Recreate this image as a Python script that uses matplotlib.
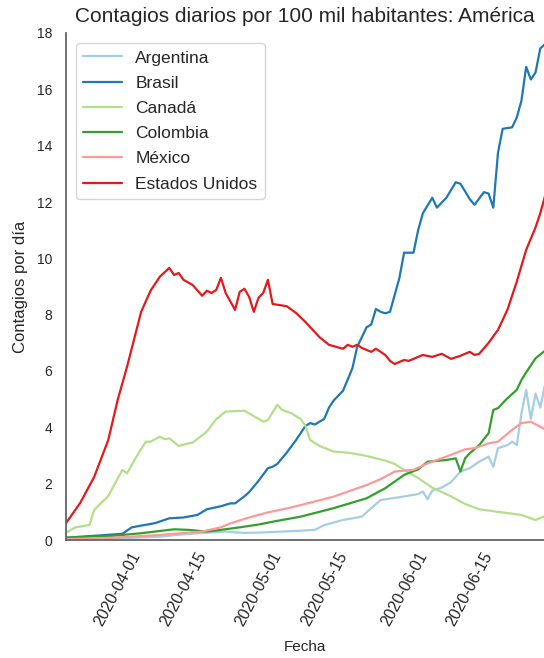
import matplotlib
matplotlib.use("Agg")
import matplotlib.pyplot as plt
import pandas as pd
import seaborn as sns

sns.set_style("white")
plt.rcParams['font.family'] = ['Liberation Sans', 'DejaVu Sans']

# ---- data (days since 2020-03-21, cases per 100k, daily) ----
start_date = "2020-03-21"

arg_days = [0, 10, 20, 25, 30, 34, 38, 42, 46, 50, 53, 55, 59, 63, 65, 67, 71, 75, 76, 77, 78, 80, 82, 84, 86, 88, 90, 91, 92, 94, 95, 96, 97, 98, 99, 100, 101, 102]
arg_vals = [0.02, 0.05, 0.12, 0.2, 0.26, 0.3, 0.25, 0.27, 0.3, 0.33, 0.36, 0.53, 0.71, 0.83, 1.13, 1.42, 1.52, 1.63, 1.72, 1.45, 1.75, 1.86, 2.05, 2.43, 2.55, 2.78, 2.96, 2.6, 3.26, 3.37, 3.49, 3.37, 4.5, 5.33, 4.3, 5.2, 4.7, 5.5]

bra_days = [0, 12, 14, 19, 22, 25, 28, 30, 33, 35, 36, 38, 39, 41, 43, 44, 45, 47, 49, 51, 52, 53, 55, 56, 57, 59, 61, 62, 64, 65, 66, 67, 68, 69, 70, 71, 72, 74, 75, 76, 78, 79, 81, 83, 84, 86, 87, 89, 90, 91, 92, 93, 95, 96, 97, 98, 99, 100, 101, 102]
bra_vals = [0.08, 0.22, 0.45, 0.6, 0.77, 0.8, 0.89, 1.09, 1.2, 1.3, 1.3, 1.55, 1.7, 2.1, 2.55, 2.6, 2.7, 3.1, 3.55, 4.05, 4.15, 4.1, 4.3, 4.7, 4.95, 5.3, 6.1, 6.85, 7.55, 7.65, 8.2, 8.1, 8.05, 8.1, 8.7, 9.3, 10.2, 10.2, 11.0, 11.6, 12.15, 11.8, 12.15, 12.7, 12.65, 12.1, 11.9, 12.35, 12.3, 11.8, 13.75, 14.6, 14.65, 15.0, 15.6, 16.8, 16.35, 16.6, 17.45, 17.6]

can_days = [0, 2, 5, 6, 9, 12, 13, 15, 17, 18, 20, 21, 22, 24, 26, 27, 30, 32, 34, 38, 40, 42, 43, 45, 46, 48, 50, 51, 52, 54, 57, 60, 63, 65, 68, 70, 72, 75, 78, 82, 85, 88, 92, 97, 100, 102]
can_vals = [0.26, 0.45, 0.53, 1.07, 1.56, 2.49, 2.37, 2.96, 3.49, 3.49, 3.67, 3.58, 3.61, 3.34, 3.43, 3.46, 3.85, 4.29, 4.56, 4.59, 4.4, 4.2, 4.26, 4.8, 4.62, 4.5, 4.29, 4.05, 3.55, 3.34, 3.14, 3.1, 3.02, 2.94, 2.82, 2.7, 2.49, 2.2, 1.86, 1.55, 1.28, 1.09, 1.0, 0.89, 0.71, 0.85]

col_days = [0, 10, 16, 23, 26, 30, 33, 37, 41, 45, 50, 57, 64, 68, 72, 75, 77, 81, 83, 84, 85, 86, 88, 90, 91, 92, 93, 94, 96, 97, 98, 100, 102]
col_vals = [0.08, 0.15, 0.24, 0.38, 0.36, 0.3, 0.36, 0.45, 0.55, 0.68, 0.83, 1.13, 1.48, 1.84, 2.31, 2.51, 2.78, 2.84, 2.9, 2.43, 2.9, 3.08, 3.37, 3.79, 4.62, 4.68, 4.86, 5.03, 5.33, 5.68, 5.95, 6.45, 6.72]

mex_days = [0, 10, 20, 29, 33, 35, 39, 43, 47, 50, 57, 64, 67, 70, 74, 77, 81, 85, 87, 90, 92, 95, 97, 99, 102]
mex_vals = [0.03, 0.08, 0.18, 0.3, 0.45, 0.59, 0.8, 0.98, 1.12, 1.24, 1.54, 1.95, 2.16, 2.43, 2.49, 2.72, 2.96, 3.22, 3.26, 3.43, 3.49, 3.91, 4.15, 4.2, 3.93]

usa_days = [0, 3, 6, 9, 11, 13, 16, 18, 20, 22, 23, 24, 25, 27, 29, 30, 31, 32, 33, 34, 36, 37, 38, 39, 40, 41, 42, 43, 44, 47, 49, 51, 54, 56, 59, 60, 61, 62, 63, 65, 66, 68, 69, 70, 72, 73, 76, 78, 80, 82, 84, 86, 87, 88, 90, 92, 94, 96, 98, 99, 100, 101, 102]
usa_vals = [0.6, 1.31, 2.24, 3.55, 4.97, 6.15, 8.1, 8.85, 9.35, 9.66, 9.41, 9.48, 9.24, 9.05, 8.67, 8.85, 8.77, 8.88, 9.31, 8.77, 8.17, 8.81, 8.92, 8.63, 8.1, 8.6, 8.77, 9.24, 8.38, 8.3, 8.06, 7.74, 7.2, 6.93, 6.79, 6.93, 6.86, 6.93, 6.82, 6.68, 6.79, 6.57, 6.36, 6.25, 6.39, 6.36, 6.57, 6.5, 6.61, 6.43, 6.54, 6.68, 6.57, 6.61, 7.0, 7.46, 8.17, 9.17, 10.3, 10.7, 11.1, 11.6, 12.2]

countries = ["Argentina", "Brasil", "Canadá", "Colombia", "México", "Estados Unidos"]
series_days = [arg_days, bra_days, can_days, col_days, mex_days, usa_days]
series_vals = [arg_vals, bra_vals, can_vals, col_vals, mex_vals, usa_vals]

tick_dates = ["2020-04-01", "2020-04-15", "2020-05-01", "2020-05-15", "2020-06-01", "2020-06-15"]
y_ticks = [0, 2, 4, 6, 8, 10, 12, 14, 16, 18]

title = "Contagios diarios por 100 mil habitantes: América"
x_label = "Fecha"
y_label = "Contagios por día"

# ---- plot ----
W, H = 544, 658
fig = plt.figure(figsize=(W / 100, H / 100), dpi=100)
ax = fig.add_axes([66 / W, 118 / H, 478 / W, 507 / H])

palette = sns.color_palette("Paired", 6)
base = pd.Timestamp(start_date)
for name, d, v, c in zip(countries, series_days, series_vals, palette):
    dates = base + pd.to_timedelta(d, unit="D")
    ax.plot(dates, v, color=c, lw=1.6, label=name)

ax.set_xlim(base, base + pd.Timedelta(days=101.8))
ax.set_ylim(0, 18)
ax.set_yticks(y_ticks)
ax.set_yticklabels([str(t) for t in y_ticks], fontsize=10, color=".15")
ax.set_xticks(pd.to_datetime(tick_dates))
ax.set_xticklabels(tick_dates, rotation=62, fontsize=11.5, color=".15")
ax.tick_params(axis="y", length=0, pad=10)
ax.tick_params(axis="x", length=0, pad=7)

for s in ["top", "right"]:
    ax.spines[s].set_visible(False)
for s in ["left", "bottom"]:
    ax.spines[s].set_color("#666666")
    ax.spines[s].set_linewidth(1.3)

ax.set_title(title, fontsize=15, color=".15", pad=8)
ax.set_xlabel(x_label, fontsize=11, color=".15", labelpad=8)
ax.set_ylabel(y_label, fontsize=12, color=".15", labelpad=6)

leg = ax.legend(loc="upper left", fontsize=12.5, frameon=True, handlelength=2.2,
                borderaxespad=0.6, labelspacing=0.58)
leg.get_frame().set_edgecolor("#cccccc")

fig.savefig("out.png", dpi=100)
